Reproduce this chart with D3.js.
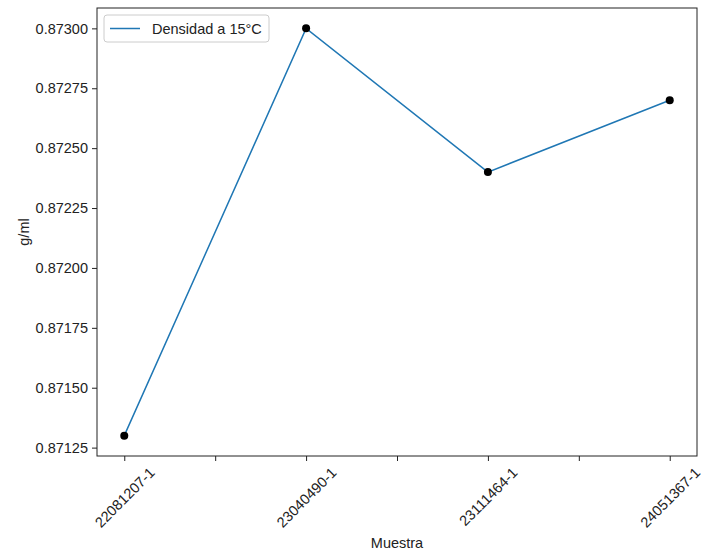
<!DOCTYPE html>
<html><head><meta charset="utf-8">
<script src="https://cdn.jsdelivr.net/npm/d3@7"></script>
<style>body{margin:0;background:#fff}svg{display:block}text{font-family:"Liberation Sans",Arial,sans-serif;fill:#222}</style>
</head><body>
<svg id="c" width="713" height="552"></svg>
<script>
const categories = ["22081207-1","23040490-1","23111464-1","24051367-1"];
const values = [0.87130, 0.87300, 0.87240, 0.87270];
const yTicks = [0.87125,0.87150,0.87175,0.87200,0.87225,0.87250,0.87275,0.87300];
const xTicks = [0,0.5,1,1.5,2,2.5,3];
const seriesName = "Densidad a 15°C";

const svg = d3.select("#c");
const L=97,R=697,T=8,B=456;
const x = d3.scaleLinear().domain([-0.15,3.15]).range([L,R]);
const y = d3.scaleLinear().domain([0.871215,0.873085]).range([B,T]);
const fs = 14.5;

// axes
const yAxis = d3.axisLeft(y).tickValues(yTicks).tickSize(5).tickPadding(4).tickFormat(d3.format(".5f"));
const gy = svg.append("g").attr("transform",`translate(${L},0)`).call(yAxis);
gy.select(".domain").remove();
gy.selectAll("text").style("font-size",fs+"px").attr("fill","#222");
gy.selectAll("line").attr("stroke","#222");

const xAxis = d3.axisBottom(x).tickValues(xTicks).tickSize(5).tickFormat(d=>Number.isInteger(d)?categories[d]:"");
const gx = svg.append("g").attr("transform",`translate(0,${B})`).call(xAxis);
gx.select(".domain").remove();
gx.selectAll("line").attr("stroke","#222");
gx.selectAll("text").style("font-size",fs+"px").attr("fill","#222")
  .attr("text-anchor","middle").attr("dy",null).attr("y",0).attr("dominant-baseline","central")
  .each(function(){
    const w = this.getComputedTextLength();
    const h = fs*0.8;
    const off = 10 + (w+h)/(2*Math.SQRT2);
    d3.select(this).attr("transform",`translate(0,${off}) rotate(-45)`);
  });

// frame
svg.append("rect").attr("x",L).attr("y",T).attr("width",R-L).attr("height",B-T)
  .attr("fill","none").attr("stroke","#222").attr("stroke-width",1);

// line
const line = d3.line().x((d,i)=>x(i)).y(d=>y(d));
svg.append("path").datum(values).attr("d",line).attr("fill","none")
  .attr("stroke","#1f77b4").attr("stroke-width",1.5);
svg.selectAll("circle.pt").data(values).join("circle").attr("class","pt")
  .attr("cx",(d,i)=>x(i)).attr("cy",d=>y(d)).attr("r",4).attr("fill","#000");

// axis labels
svg.append("text").attr("x",(L+R)/2).attr("y",548).attr("text-anchor","middle")
  .style("font-size",fs+"px").text("Muestra");
svg.append("text").attr("transform",`translate(29,${(T+B)/2}) rotate(-90)`).attr("text-anchor","middle")
  .style("font-size",fs+"px").text("g/ml");

// legend
const lg = svg.append("g");
lg.append("rect").attr("x",104).attr("y",15).attr("width",165).attr("height",27).attr("rx",3)
  .attr("fill","#fff").attr("fill-opacity",0.8).attr("stroke","#ccc");
lg.append("line").attr("x1",110).attr("x2",140).attr("y1",28.5).attr("y2",28.5)
  .attr("stroke","#1f77b4").attr("stroke-width",1.5);
lg.append("text").attr("x",152).attr("y",33.5).style("font-size",fs+"px").text(seriesName);
</script>
</body></html>
